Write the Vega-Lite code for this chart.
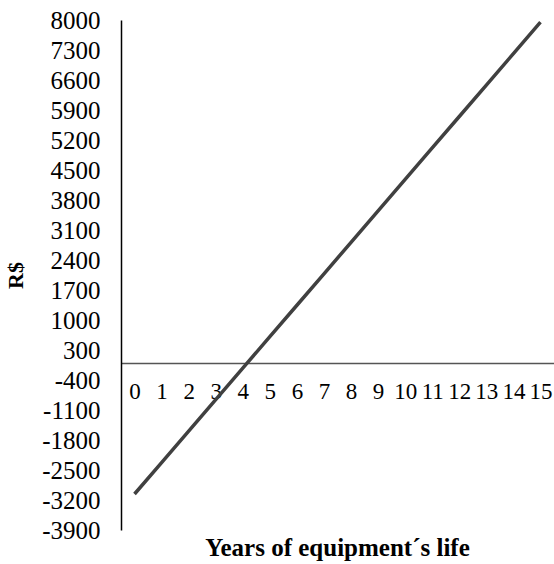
{
  "$schema": "https://vega.github.io/schema/vega-lite/v6.json",
  "width": 433,
  "height": 510,
  "autosize": {"type": "none"},
  "padding": {"left": 121, "top": 20, "right": 0, "bottom": 34},
  "background": "white",
  "config": {
    "view": {"stroke": null},
    "font": "Liberation Serif",
    "axis": {"grid": false, "ticks": false, "labelFont": "Liberation Serif", "titleFont": "Liberation Serif", "labelColor": "black", "titleColor": "black"}
  },
  "data": {
    "values": [
      {"year": 0, "value": -3060},
      {"year": 1, "value": -2326},
      {"year": 2, "value": -1592},
      {"year": 3, "value": -858},
      {"year": 4, "value": -124},
      {"year": 5, "value": 610},
      {"year": 6, "value": 1344},
      {"year": 7, "value": 2078},
      {"year": 8, "value": 2812},
      {"year": 9, "value": 3546},
      {"year": 10, "value": 4280},
      {"year": 11, "value": 5014},
      {"year": 12, "value": 5748},
      {"year": 13, "value": 6482},
      {"year": 14, "value": 7216},
      {"year": 15, "value": 7950}
    ]
  },
  "mark": {"type": "line", "color": "#404040", "strokeWidth": 3.5},
  "encoding": {
    "x": {
      "field": "year",
      "type": "quantitative",
      "scale": {"domain": [-0.5, 15.5], "nice": false, "zero": false},
      "axis": {
        "values": [0,1,2,3,4,5,6,7,8,9,10,11,12,13,14,15],
        "labelExpr": "'' + datum.value",
        "offset": -167,
        "domainColor": "#555555",
        "domainWidth": 1.5,
        "labelFontSize": 23,
        "labelPadding": 17,
        "labelFlush": false,
        "labelOverlap": false,
        "title": "Years of equipment´s life",
        "titleFontSize": 25,
        "titleFontWeight": "bold",
        "titleY": 184,
        "titleX": 216,
        "titleBaseline": "middle"
      }
    },
    "y": {
      "field": "value",
      "type": "quantitative",
      "scale": {"domain": [-3900, 8000], "nice": false, "zero": false},
      "axis": {
        "values": [-3900,-3200,-2500,-1800,-1100,-400,300,1000,1700,2400,3100,3800,4500,5200,5900,6600,7300,8000],
        "labelExpr": "'' + datum.value",
        "domainColor": "black",
        "domainWidth": 1.5,
        "labelFontSize": 25,
        "labelPadding": 21,
        "labelFlush": false,
        "labelOverlap": false,
        "title": "R$",
        "titleFontSize": 22,
        "titleFontWeight": "bold",
        "titleX": -106,
        "titleY": 255,
        "titleBaseline": "middle"
      }
    }
  }
}
